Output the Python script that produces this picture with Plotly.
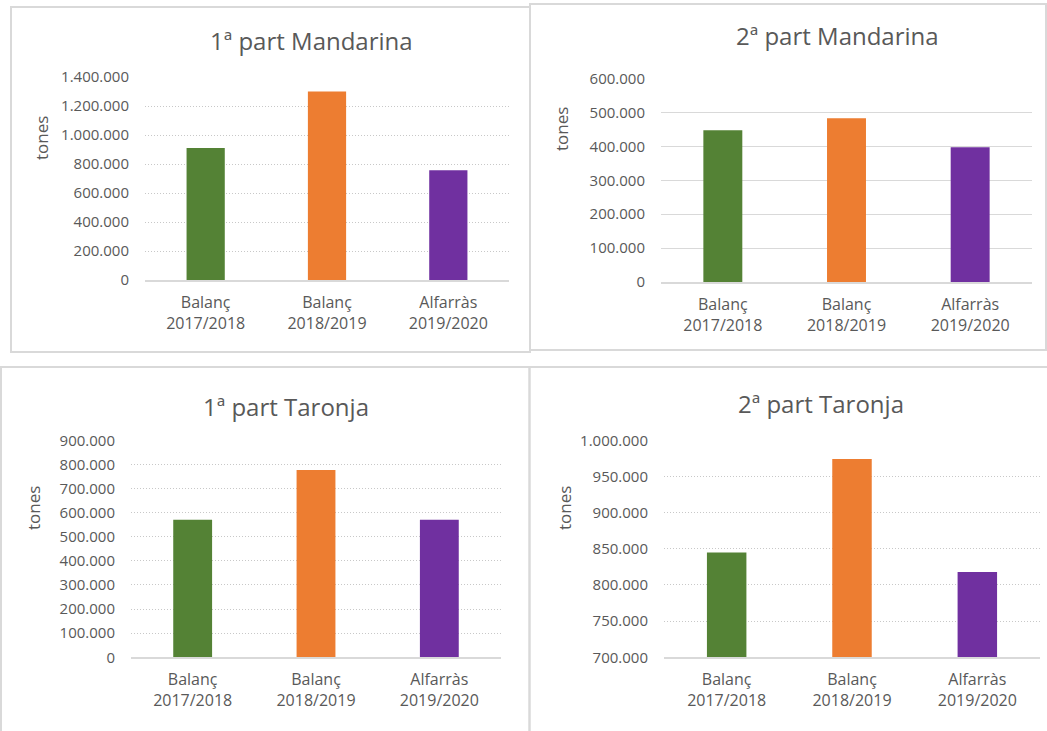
import plotly.graph_objects as go

W, H = 1047, 731

categories = ["Balanç<br>2017/2018", "Balanç<br>2018/2019", "Alfarràs<br>2019/2020"]
bar_colors = ["#548235", "#ED7D31", "#7030A0"]

titles = ["1ª part Mandarina", "2ª part Mandarina", "1ª part Taronja", "2ª part Taronja"]
mand1 = [910000, 1300000, 757000]
mand2 = [448000, 483000, 398000]
tar1 = [570000, 777000, 570000]
tar2 = [845000, 974000, 818000]
series = [mand1, mand2, tar1, tar2]

y_ranges = [[0, 1400000], [0, 600000], [0, 900000], [700000, 1000000]]
y_dticks = [200000, 100000, 100000, 50000]
grid_dash = ["1px,2px", "solid", "1px,2px", "1px,2px"]

# pixel layout (x0, x1, ytop, ybottom) of each plot area
plot_px = [(145, 509, 77, 280), (661, 1032, 78.7, 282), (131, 501, 440.3, 657.3), (664, 1040, 440.3, 657.3)]
title_px = [(311, 40), (837, 36), (286, 407), (821, 403)]
ytitle_px = [(42, 138), (561, 129), (33, 508), (564, 508)]
border_px = [(11, 7, 530, 352), (530, 4, 1046, 350), (1, 367, 529.5, 735), (529.5, 367, 1050, 735)]

TXT = "#595959"
GRID = "#d9d9d9"
FONT = "Open Sans"

def px2x(v):
    return v / W

def px2y(v):
    return 1 - v / H

fig = go.Figure()
layout = dict(
    width=W, height=H, autosize=False,
    margin=dict(l=0, r=0, t=0, b=0, pad=0, autoexpand=False),
    paper_bgcolor="white", plot_bgcolor="white",
    showlegend=False, separators=",.",
    font=dict(family=FONT, color=TXT, size=16),
    bargap=0.685,
)
annotations = []
shapes = []
for i in range(4):
    n = "" if i == 0 else str(i + 1)
    fig.add_trace(go.Bar(
        x=categories, y=series[i], marker=dict(color=bar_colors, line=dict(width=0)),
        xaxis="x" + n, yaxis="y" + n,
    ))
    x0, x1, yt, yb = plot_px[i]
    layout["xaxis" + n] = dict(
        domain=[px2x(x0), px2x(x1)], anchor="y" + n, automargin=False,
        showline=True, linecolor=GRID, linewidth=1.5, showgrid=False,
        tickfont=dict(family=FONT, size=16, color=TXT), ticklabelstandoff=7,
        fixedrange=True,
    )
    layout["yaxis" + n] = dict(
        domain=[px2y(yb), px2y(yt)], anchor="x" + n, automargin=False,
        range=y_ranges[i], dtick=y_dticks[i], tick0=0, tickformat=",d",
        showgrid=True, gridcolor=GRID if grid_dash[i] == "solid" else "#c8c8c8",
        gridwidth=1, griddash=grid_dash[i],
        showline=False, zeroline=False,
        tickfont=dict(family=FONT, size=15, color=TXT), ticklabelstandoff=15,
        fixedrange=True,
    )
    tx, ty = title_px[i]
    annotations.append(dict(
        text=titles[i], x=px2x(tx), y=px2y(ty), xref="paper", yref="paper",
        xanchor="center", yanchor="middle", showarrow=False,
        font=dict(family=FONT, size=24, color=TXT),
    ))
    ax, ay = ytitle_px[i]
    annotations.append(dict(
        text="tones", x=px2x(ax), y=px2y(ay), xref="paper", yref="paper",
        xanchor="center", yanchor="middle", showarrow=False, textangle=-90,
        font=dict(family=FONT, size=17, color=TXT),
    ))
    bx0, by0, bx1, by1 = border_px[i]
    shapes.append(dict(
        type="rect", xref="paper", yref="paper",
        x0=px2x(bx0), x1=px2x(bx1), y0=px2y(by1), y1=px2y(by0),
        line=dict(color=GRID, width=2), fillcolor="rgba(0,0,0,0)", layer="below",
    ))

layout["annotations"] = annotations
layout["shapes"] = shapes
fig.update_layout(**layout)
fig.write_html(
    "out.html",
    config={"displayModeBar": False, "responsive": False},
    post_script="document.body.style.margin='0';document.body.style.padding='0';document.body.style.overflow='hidden';",
)
